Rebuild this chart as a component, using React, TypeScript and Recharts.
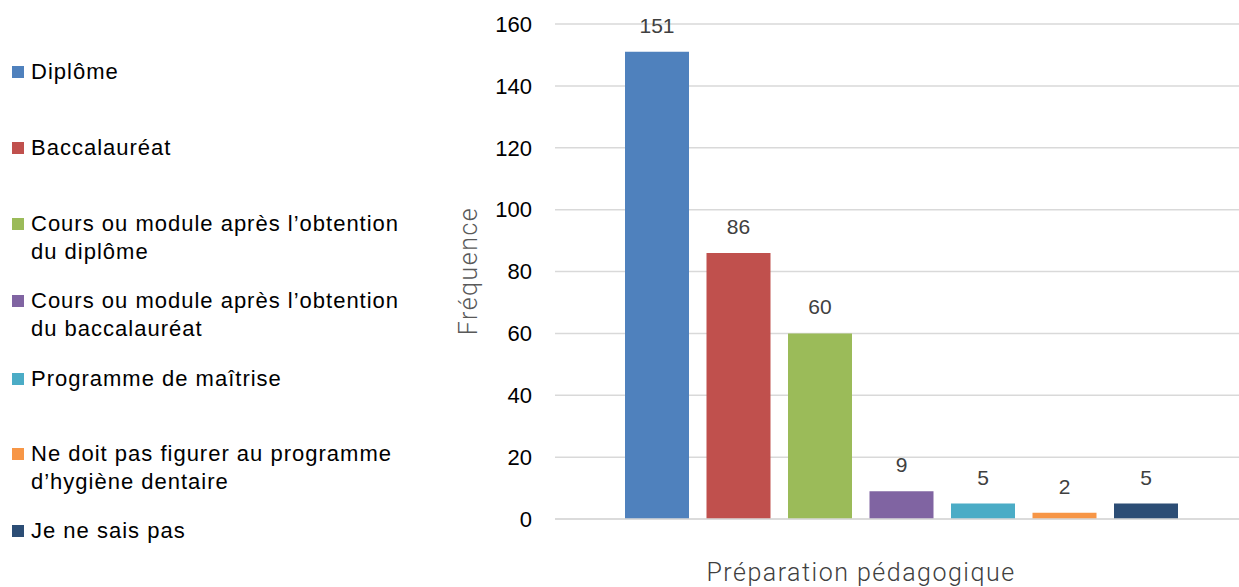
import React from "react";
import { BarChart, Bar, XAxis, YAxis, CartesianGrid, LabelList } from "recharts";

// ─── Data ──────────────────────────────────────────────────────────────────────

const category = "Préparation pédagogique";

const seriesNames = [
  "Diplôme",
  "Baccalauréat",
  "Cours ou module après l’obtention du diplôme",
  "Cours ou module après l’obtention du baccalauréat",
  "Programme de maîtrise",
  "Ne doit pas figurer au programme d’hygiène dentaire",
  "Je ne sais pas",
];

// legend text split as in the picture
const legendLines = [
  ["Diplôme"],
  ["Baccalauréat"],
  ["Cours ou module après l’obtention", "du diplôme"],
  ["Cours ou module après l’obtention", "du baccalauréat"],
  ["Programme de maîtrise"],
  ["Ne doit pas figurer au programme", "d’hygiène dentaire"],
  ["Je ne sais pas"],
];

const seriesValues = [151, 86, 60, 9, 5, 2, 5];

const seriesColors = ["#4f81bd", "#c0504d", "#9bbb59", "#8064a2", "#4bacc6", "#f79646", "#2c4d75"];

const yTicks = [0, 20, 40, 60, 80, 100, 120, 140, 160];

const legendTops = [72, 148, 224, 301, 379, 454, 531];

const data = [
  seriesValues.reduce(
    (row, v, i) => ({ ...row, ["s" + i]: v }),
    { name: category } as Record<string, string | number>
  ),
];

const FONT = "'Liberation Sans', Arial, sans-serif";
const TITLE_FONT = "Roboto, sans-serif";

// ─── Custom bits ───────────────────────────────────────────────────────────────

function CategoryTick({ x, y, payload }: any) {
  return (
    <text
      x={x - 40}
      y={y + 54}
      textAnchor="middle"
      fill="#404040"
      fontSize={25}
      fontWeight={300}
      letterSpacing={1.5}
      fontFamily={TITLE_FONT}
    >
      {payload.value}
    </text>
  );
}

function Legend() {
  return (
    <>
      {legendLines.map((lines, i) => (
        <div
          key={seriesNames[i]}
          style={{
            position: "absolute",
            left: 12,
            top: legendTops[i] - 14,
            display: "flex",
            alignItems: "flex-start",
            fontFamily: FONT,
            fontSize: 22,
            letterSpacing: 1,
            lineHeight: "28px",
            color: "#000",
          }}
        >
          <span
            style={{
              display: "inline-block",
              flex: "none",
              width: 12,
              height: 12,
              marginTop: 8,
              marginRight: 7,
              background: seriesColors[i],
            }}
          />
          <span>
            {lines.map((l) => (
              <div key={l} style={{ whiteSpace: "nowrap" }}>
                {l}
              </div>
            ))}
          </span>
        </div>
      ))}
    </>
  );
}

// ─── Main component ────────────────────────────────────────────────────────────

export default function App() {
  return (
    <div
      style={{
        position: "absolute",
        left: 0,
        top: 0,
        width: 1239,
        height: 587,
        overflow: "hidden",
        background: "#fff",
      }}
    >
      <div style={{ position: "absolute", left: 0, top: 0 }}>
        <BarChart
          width={1247}
          height={587}
          data={data}
          margin={{ top: 24, right: 0, bottom: 0, left: 0 }}
          barSize={64}
          barGap={17.5}
        >
          <CartesianGrid vertical={false} stroke="#d9d9d9" strokeWidth={1.5} />
          <XAxis
            dataKey="name"
            height={68}
            axisLine={{ stroke: "#d9d9d9", strokeWidth: 1.5 }}
            tickLine={false}
            tick={<CategoryTick />}
            interval={0}
          />
          <YAxis
            width={555}
            domain={[0, 160]}
            ticks={yTicks}
            axisLine={false}
            tickLine={false}
            tickMargin={17}
            tick={{ fontSize: 22, fill: "#000", fontFamily: FONT }}
            label={{
              content: () => (
                <text
                  x={477}
                  y={271}
                  transform="rotate(-90 477 271)"
                  textAnchor="middle"
                  fill="#595959"
                  fontSize={25}
                  fontWeight={300}
                  letterSpacing={1.5}
                  fontFamily={TITLE_FONT}
                >
                  Fréquence
                </text>
              ),
            }}
          />
          {seriesNames.map((n, i) => (
            <Bar key={n} dataKey={"s" + i} name={n} fill={seriesColors[i]} isAnimationActive={false}>
              <LabelList
                dataKey={"s" + i}
                position="top"
                offset={19}
                fill="#404040"
                fontSize={21}
                fontFamily={FONT}
              />
            </Bar>
          ))}
        </BarChart>
      </div>
      <Legend />
    </div>
  );
}
